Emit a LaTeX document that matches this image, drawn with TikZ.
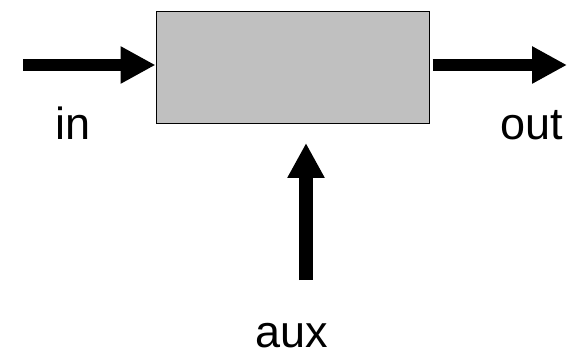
\documentclass[tikz,border=0pt]{standalone}
\usepackage{fontspec}
\setmainfont{Liberation Sans}
\usetikzlibrary{arrows.meta}
\usepackage{xcolor}
\definecolor{boxgray}{HTML}{C0C0C0}

\begin{document}
\begin{tikzpicture}[x=1pt,y=-1pt,
        flow/.style={line width=12pt, -{Triangle[length=35pt,width=35pt]}},
        lbl/.style={anchor=base, inner sep=0pt, font=\fontsize{45}{54}\selectfont}]
        \useasboundingbox (0,0) rectangle (578,358);

        \node[draw, fill=boxgray, line width=1pt, minimum width=273pt, minimum height=112pt, inner sep=0pt] (block) at (292.5,68) {};

        \coordinate (inStart) at (23,65);
        \coordinate (outEnd) at (567,65);
        \coordinate (auxStart) at (306,280);
        \coordinate (auxEnd) at (306,143);

        \draw[flow] (inStart) -- (block.west |- inStart);
        \draw[flow] ([xshift=3pt]block.east |- outEnd) -- (outEnd);
        \draw[flow, line width=14pt] (auxStart) -- (auxEnd);

        \node[lbl] (inLbl) at (73,140) {in};
        \node[lbl] (outLbl) at (532,140) {out};
        \node[lbl] (auxLbl) at (292,347) {aux};
    \end{tikzpicture}
\end{document}
